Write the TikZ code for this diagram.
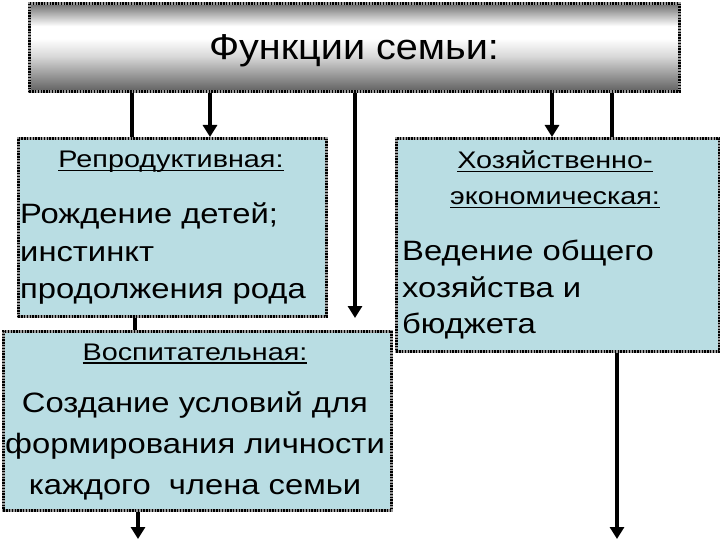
\documentclass[tikz,border=0pt]{standalone}
\usepackage{fontspec}
\setmainfont{Liberation Sans}
\newfontfamily\titlefont[FakeStretch=1.1]{Liberation Sans}
\newfontfamily\wfont[FakeStretch=1.17]{Liberation Sans}
\newfontfamily\hfont[FakeStretch=1.2]{Liberation Sans}
\usetikzlibrary{arrows.meta}
\definecolor{boxblue}{RGB}{185,221,227}
\pgfdeclareverticalshading{metal}{100bp}{color(0bp)=(black!62); color(25bp)=(black!62); color(45bp)=(black!15); color(55bp)=(white); color(62bp)=(white); color(70bp)=(black!35); color(75bp)=(black!58); color(100bp)=(black!58)}
\newsavebox\ulbox
\newcommand\ulin[1]{\sbox\ulbox{#1}\rlap{\rule[-3.5pt]{\wd\ulbox}{1.6pt}}\usebox\ulbox}
\tikzset{
  frame/.style={draw=black!40, line width=2.6pt, inner sep=0pt, anchor=north west,
    postaction={draw=black, line width=2.6pt, dash pattern=on 1.4pt off 1.4pt}},
  fnbox/.style={frame, fill=boxblue},
  head/.style={anchor=base, inner sep=0pt, font=\hfont\fontsize{24}{28}\selectfont},
  body/.style={inner sep=0pt, font=\wfont\fontsize{28}{32}\selectfont},
  conn/.style={line width=4.5pt},
  arr/.style={conn, -{Triangle[width=14pt,length=12pt]}}
}
\begin{document}
\begin{tikzpicture}[x=1pt,y=-1pt]
\useasboundingbox (0,0) rectangle (720,540);
% boxes
\node[frame, shading=metal, minimum width=650pt, minimum height=88pt] (top) at (28,2) {};
\node[fnbox, minimum width=308pt, minimum height=178pt] (rep) at (17,137) {};
\node[fnbox, minimum width=323pt, minimum height=213pt] (hoz) at (395,137) {};
\node[fnbox, minimum width=388pt, minimum height=179pt] (vos) at (2,330) {};
% title
\node[anchor=base, inner sep=0pt, font=\titlefont\fontsize{36}{40}\selectfont] (title) at (354,60) {Функции семьи:};
% reproductive
\node[head] (repH) at (171,168) {\ulin{Репродуктивная:}};
\node[body, anchor=base west] (rep1) at (20,224) {Рождение детей;};
\node[body, anchor=base west] (rep2) at (20,261) {инстинкт};
\node[body, anchor=base west] (rep3) at (20,298) {продолжения рода};
% economic
\node[head] (hozH1) at (555,169) {\ulin{Хозяйственно-}};
\node[head] (hozH2) at (555,205) {\ulin{экономическая:}};
\node[body, anchor=base west] (hoz1) at (402,260) {Ведение общего};
\node[body, anchor=base west] (hoz2) at (402,297) {хозяйства и};
\node[body, anchor=base west] (hoz3) at (402,333) {бюджета};
% upbringing
\node[head] (vosH) at (195,360) {\ulin{Воспитательная:}};
\node[body, anchor=base] (vos1) at (195,412) {Создание условий для};
\node[body, anchor=base] (vos2) at (195,453) {формирования личности};
\node[body, anchor=base] (vos3) at (195,494) {каждого~ члена семьи};
% connector positions
\coordinate (x132) at (132,0);
\coordinate (x210) at (210,0);
\coordinate (x355) at (355,0);
\coordinate (x552) at (552,0);
\coordinate (x612) at (612,0);
\coordinate (x135) at (135,0);
\coordinate (e355) at (355,318);
\coordinate (e138) at (138,539);
\coordinate (e617) at (617,539);
% connectors
\draw[conn] (top.south -| x132) -- (rep.north -| x132);
\draw[arr] (top.south -| x210) -- (rep.north -| x210);
\draw[arr] (top.south -| x355) -- (e355);
\draw[arr] (top.south -| x552) -- (hoz.north -| x552);
\draw[conn] (top.south -| x612) -- (hoz.north -| x612);
\draw[conn] (rep.south -| x135) -- (vos.north -| x135);
\draw[arr] (vos.south -| e138) -- (e138);
\draw[arr] (hoz.south -| e617) -- (e617);
\end{tikzpicture}
\end{document}
